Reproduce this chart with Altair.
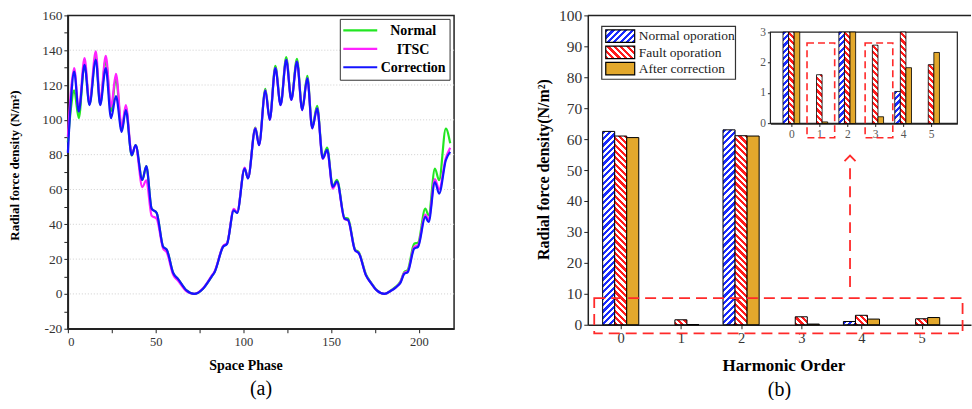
import altair as alt

FONT = "Liberation Serif"

# ---------------- (a) radial force density along the air gap ----------------
PHASE = [0, 1.8, 3.6, 6.2, 9.5, 12.3, 15.9, 18.4, 21.6, 24.6, 27.4, 30.7, 33.0, 36.4,
         38.6, 42.4, 44.7, 47.7, 50.6, 54.3, 56.3, 60.0, 62.8, 67.6, 71.9, 77.0, 81.8,
         83.7, 88.4, 90.7, 94.5, 96.4, 100.7, 102.6, 106.8, 108.9, 112.5, 115.0, 118.2,
         121.2, 124.4, 127.3, 130.5, 133.5, 136.4, 139.2, 142.0, 145.2, 147.7, 150.9,
         153.3, 157.6, 159.6, 163.6, 165.7, 169.9, 172.5, 176.0, 180.3, 184.0, 186.9,
         189.5, 191.6, 193.6, 197.3, 199.5, 203.6, 205.5, 209.1, 211.5, 215.3, 217.8]

CORRECTION = [81, 112, 127.7, 104.7, 131.6, 108.5, 134.5, 108.5, 129.7, 100.9, 113.7, 93.1,
              105.6, 79.7, 85.5, 65.5, 73.4, 49, 46.5, 27, 25.5, 12, 8.5, 2, 0, 3, 9.8,
              12.8, 27, 28.8, 48, 46.5, 72, 66.3, 95, 85.5, 116.8, 100, 129.7, 108.5,
              134.5, 111.4, 133.5, 105.6, 123.9, 95.1, 106.6, 77.8, 82.8, 61.5, 64.6, 43.2,
              42.5, 25, 23.5, 10.5, 6.5, 2, 0, 1.8, 3.8, 6.5, 11.5, 12.5, 26, 27, 44.2,
              41.3, 64.3, 57.6, 76.8, 81.6]

ITSC = [90, 117, 129.7, 106, 135.4, 110, 139.3, 110.5, 136.8, 107.5, 126.4, 95.5,
        108.5, 80.5, 85, 61.4, 65.3, 45, 43.2, 26, 24, 11, 7.5, 1.5, 0, 3.2, 10.2,
        13.2, 27.5, 29.2, 48.8, 47, 72.5, 66.5, 95.3, 85.5, 117, 100, 129.7, 108.5,
        134.5, 111.4, 133.5, 105.6, 123.9, 95.1, 106.6, 77.5, 82.5, 60.5, 64, 43,
        42.3, 25, 23.5, 10.5, 6.5, 2, 0, 1.8, 3.8, 6.8, 12, 13, 27, 28, 45.5,
        43, 66, 60, 78, 84]

NORMAL = [87, 107, 117, 100.9, 132.5, 109, 136, 109, 134.5, 105, 124, 94,
          107, 79.5, 85.5, 65.5, 73.4, 49, 46.5, 27, 25.5, 12, 8.5, 2, 0, 3, 9.8,
          12.8, 27.3, 29, 48.3, 46.7, 72.2, 66.5, 95.5, 86, 117.8, 100.5, 131, 109,
          136, 112, 135, 106.2, 125.3, 95.8, 108, 78.5, 84, 62, 65.5, 43.8,
          43.3, 25.5, 24, 11, 6.8, 2.2, 0, 2, 4.2, 7.3, 12.5, 13.8, 28.8, 29.5, 49,
          45.1, 72, 65.3, 95, 86.5]

SERIES_A = ["Normal", "ITSC", "Correction"]
COLORS_A = ["#22e622", "#ff22ff", "#1414ff"]
Y_TICKS_A = list(range(-20, 161, 10))
Y_GRID_A = list(range(0, 141, 20))
X_TICKS_A = list(range(0, 201, 25))

# ---------------- (b) harmonic spectrum ----------------
ORDERS = [0, 1, 2, 3, 4, 5]
NORMAL_OP = [62.5, 0, 63.0, 0, 1.05, 0]
FAULT_OP = [61.0, 1.6, 61.1, 2.57, 3.05, 1.93]
AFTER_CORR = [60.5, 0.05, 61.0, 0.22, 1.83, 2.33]
SERIES_B = ["Normal oporation", "Fault oporation", "After correction"]
Y_TICKS_B = list(range(0, 101, 10))

BLUE, RED, GOLD = "#1a2cff", "#ff1c1c", "#e3a82c"

# panel geometry (pixels)
WA, HA = 387, 314
WB, HB = 384, 310
XB_DOM = [-0.547, 5.82]
YB_DOM = [0, 100]
INSET_X_DOM = [-0.75, 5.94]
INSET_Y_DOM = [0, 3]
INSET_X_RANGE = [183, 370.3]
INSET_Y_RANGE = [108.3, 16.7]
BAR_W = 0.2


def hatch(color, w, h, backslash=False, period=6.4, fill_share=0.5):
    """Diagonal stripes as a hard-stop linear gradient over a w x h pixel box."""
    span = w + h
    s = (w * w + h * h) / span
    stops = []
    k = 0
    while k * period < span:
        a = min(k * period / span, 1)
        b = min((k + fill_share) * period / span, 1)
        c = min((k + 1) * period / span, 1)
        stops += [{"offset": a, "color": color}, {"offset": b, "color": color},
                  {"offset": b, "color": "white"}, {"offset": c, "color": "white"}]
        k += 1
    if backslash:
        x1, y1, x2, y2 = 0, 1, w / s, 1 - h / s
    else:
        x1, y1, x2, y2 = 0, 0, w / s, h / s
    return {"gradient": "linear", "x1": x1, "y1": y1, "x2": x2, "y2": y2, "stops": stops}


def style_for(series, w, h):
    if series == SERIES_B[0]:
        return hatch(BLUE, w, h)
    if series == SERIES_B[1]:
        return hatch(RED, w, h, backslash=True)
    return GOLD


# ======================= panel (a) =======================
rows_a = []
for name, ys in zip(SERIES_A, [NORMAL, ITSC, CORRECTION]):
    for x, y in zip(PHASE, ys):
        rows_a.append({"phase": x, "value": y, "series": name})

x_a = alt.X("phase:Q", title="Space Phase",
            scale=alt.Scale(domain=[0, 220], nice=False, zero=False),
            axis=alt.Axis(values=X_TICKS_A, format="d", labelFont=FONT,
                          labelExpr="datum.value % 50 === 0 ? datum.label : ''",
                          tickSize=4, labelFontSize=12.5, labelPadding=3,
                          labelOverlap=False,
                          titleFontSize=14, titleX=178, titleY=37,
                          titleBaseline="middle", titleAlign="center"))
y_a = alt.Y("value:Q", title="Radial force density (N/m²)",
            scale=alt.Scale(domain=[-20, 160], nice=False, zero=False),
            axis=alt.Axis(values=Y_TICKS_A, labelFont=FONT,
                          labelExpr="datum.value % 20 === 0 ? '' + datum.value : ''",
                          tickSize=4, labelFontSize=13.5, labelPadding=2,
                          labelOverlap=False,
                          titleFontSize=13, titleX=-53, titleY=150,
                          titleBaseline="middle", titleAlign="center"))

grid_a = alt.Chart(alt.Data(values=[{"value": v} for v in Y_GRID_A])).mark_rule(
    color="#cfcfcf", strokeDash=[1, 2], strokeWidth=1).encode(y=y_a)

line_base = alt.Chart(alt.Data(values=rows_a))
line_layers = [
    line_base.transform_filter(alt.datum.series == name)
    .mark_line(color=col, strokeWidth=2.2, interpolate="monotone")
    .encode(x=x_a, y=y_a)
    for name, col in zip(SERIES_A, COLORS_A)
]

one = alt.Data(values=[{"k": 0}])
leg_a = [alt.Chart(one).mark_rect(fill="white", stroke="#333", strokeWidth=1).encode(
    x=alt.value(273), x2=alt.value(383), y=alt.value(4), y2=alt.value(65))]
for i, (name, col) in enumerate(zip(SERIES_A, COLORS_A)):
    yy = 15 + i * 18.5
    leg_a.append(alt.Chart(one).mark_rule(color=col, strokeWidth=2.2).encode(
        x=alt.value(276), x2=alt.value(310), y=alt.value(yy)))
    leg_a.append(alt.Chart(one).mark_text(
        text=name, font=FONT, fontSize=14, fontWeight="bold", color="black",
        align="center", baseline="middle").encode(x=alt.value(346), y=alt.value(yy + 1)))

panel_a = alt.layer(grid_a, *line_layers, *leg_a).properties(
    width=WA, height=HA,
    view=alt.ViewBackground(stroke="#222", strokeWidth=1.5),
    title=alt.TitleParams("(a)", orient="bottom", fontSize=20, font=FONT,
                          fontWeight="normal", anchor="middle", offset=6),
)

# ======================= panel (b) =======================
px_x_main = WB / (XB_DOM[1] - XB_DOM[0])
px_y_main = HB / (YB_DOM[1] - YB_DOM[0])
px_x_inset = (INSET_X_RANGE[1] - INSET_X_RANGE[0]) / (INSET_X_DOM[1] - INSET_X_DOM[0])
px_y_inset = (INSET_Y_RANGE[0] - INSET_Y_RANGE[1]) / (INSET_Y_DOM[1] - INSET_Y_DOM[0])

main_rows, inset_rows = [], []
for s_i, (name, vals) in enumerate(zip(SERIES_B, [NORMAL_OP, FAULT_OP, AFTER_CORR])):
    shift = (s_i - 1) * BAR_W
    for h, v in zip(ORDERS, vals):
        if v <= 0:
            continue
        x0, x1 = h + shift - BAR_W / 2, h + shift + BAR_W / 2
        main_rows.append({"x0": x0, "x1": x1, "value": v, "series": name,
                          "fill": style_for(name, BAR_W * px_x_main, v * px_y_main)})
        vi = min(v, INSET_Y_DOM[1])
        inset_rows.append({"x0": x0, "x1": x1, "value": vi, "series": name,
                           "fill": style_for(name, BAR_W * px_x_inset, vi * px_y_inset)})

scale_xb = alt.Scale(domain=XB_DOM, nice=False, zero=False)
scale_yb = alt.Scale(domain=YB_DOM, nice=False, zero=False)
axis_xb = alt.Axis(values=ORDERS, format="d", tickSize=4, labelFontSize=14.5,
                   labelFont=FONT, labelOverlap=False,
                   labelPadding=3, titleFontSize=17, titleX=196, titleY=41,
                   titleBaseline="middle", titleAlign="center")
axis_yb = alt.Axis(values=Y_TICKS_B, format="d", tickSize=4, tickCount=11,
                   labelFont=FONT, labelOverlap=False,
                   labelFontSize=15.5, labelPadding=2, titleFontSize=16,
                   titleX=-44, titleY=154, titleBaseline="middle",
                   titleAlign="center")
TITLE_XB = "Harmonic Order"
TITLE_YB = "Radial force density(N/m²)"


def xb(field):
    return alt.X(field, title=TITLE_XB, scale=scale_xb, axis=axis_xb)


def yb(field):
    return alt.Y(field, title=TITLE_YB, scale=scale_yb, axis=axis_yb)


bars_b = alt.Chart(alt.Data(values=main_rows)).mark_rect(
    stroke="black", strokeWidth=1).encode(
    x=xb("x0:Q"), x2="x1:Q", y=yb("value:Q"), y2=alt.datum(0),
    fill=alt.Fill("fill:N", scale=None))

# top frame line of the spectrum panel
FRAME_B = [{"x0": XB_DOM[0], "x1": XB_DOM[1], "value": YB_DOM[1]}]
top_b = alt.Chart(alt.Data(values=FRAME_B)).mark_rule(color="#222", strokeWidth=1.5).encode(
    x=xb("x0:Q"), x2="x1:Q", y=yb("value:Q"))

# zoom-in annotation: dashed box around the low orders and an arrow to the inset
ZOOM_BOX = {"x0": -0.44, "x1": 5.68, "value": 8.6, "low": -2.8}
ARROW = {"x0": 3.81, "value": 12.2, "to": 52.8, "tip": 54.7}
dash_box = alt.Chart(alt.Data(values=[ZOOM_BOX])).mark_rect(
    fill="transparent", stroke="#ff2a2a", strokeWidth=1.8, strokeDash=[11, 6]).encode(
    x=xb("x0:Q"), x2="x1:Q", y=yb("value:Q"), y2="low:Q")
shaft = alt.Chart(alt.Data(values=[ARROW])).mark_rule(
    color="#ff2a2a", strokeWidth=1.8, strokeDash=[11, 7]).encode(
    x=xb("x0:Q"), y=yb("value:Q"), y2="to:Q")
head = alt.Chart(alt.Data(values=[ARROW])).transform_calculate(
    value="datum.tip").mark_point(
    shape="M-1,1L0,0L1,1", size=121, filled=False, color="#ff2a2a",
    strokeWidth=1.8, opacity=1).encode(x=xb("x0:Q"), y=yb("value:Q"))

leg_b = [alt.Chart(one).mark_rect(fill="white", stroke="#333", strokeWidth=1.2).encode(
    x=alt.value(14), x2=alt.value(148), y=alt.value(11), y2=alt.value(64))]
for i, name in enumerate(SERIES_B):
    y0 = 14.5 + i * 16.3
    leg_b.append(alt.Chart(one).mark_rect(
        fill=style_for(name, 29, 12.5), stroke="black", strokeWidth=1.2).encode(
        x=alt.value(18), x2=alt.value(47), y=alt.value(y0), y2=alt.value(y0 + 12.5)))
    leg_b.append(alt.Chart(one).mark_text(
        text=name, font=FONT, fontSize=13.5, color="#222", align="left",
        baseline="middle").encode(x=alt.value(51), y=alt.value(y0 + 6.5)))

main_b = alt.layer(bars_b, top_b, dash_box, shaft, head, *leg_b)

# inset: magnified view of 0..3
scale_xi = alt.Scale(domain=INSET_X_DOM, range=INSET_X_RANGE, nice=False, zero=False)
scale_yi = alt.Scale(domain=INSET_Y_DOM, range=INSET_Y_RANGE, nice=False, zero=False)
axis_xi = alt.Axis(orient="bottom", offset=INSET_Y_RANGE[0] - HB, values=ORDERS,
                   format="d", tickSize=3, labelFontSize=11.5, labelPadding=2,
                   labelFont=FONT, labelOverlap=False,
                   domainColor="#222", labelColor="#555", title=None)
axis_yi = alt.Axis(orient="left", offset=-INSET_X_RANGE[0], values=[0, 1, 2, 3],
                   format="d", tickSize=3, labelFontSize=11.5, labelPadding=2,
                   labelFont=FONT, labelOverlap=False,
                   domainColor="#222", labelColor="#555", title=None)
x_i = alt.X("x0:Q", scale=scale_xi, axis=axis_xi)
y_i = alt.Y("value:Q", scale=scale_yi, axis=axis_yi)

FRAME_I = [{"x0": INSET_X_DOM[0], "x1": INSET_X_DOM[1],
            "value": INSET_Y_DOM[0], "low": INSET_Y_DOM[1]}]
inset_bg = alt.Chart(alt.Data(values=FRAME_I)).mark_rect(
    fill="white", stroke="#222", strokeWidth=1.2).encode(
    x=x_i, x2="x1:Q", y=y_i, y2="low:Q")
inset_bars = alt.Chart(alt.Data(values=inset_rows)).mark_rect(
    stroke="black", strokeWidth=0.8).encode(
    x=x_i, x2="x1:Q", y=y_i, y2=alt.datum(0),
    fill=alt.Fill("fill:N", scale=None))
INSET_BOXES = [{"x0": 0.56, "x1": 1.55, "value": 2.64, "low": -0.47},
               {"x0": 2.64, "x1": 3.63, "value": 2.64, "low": -0.47}]
inset_boxes = alt.Chart(alt.Data(values=INSET_BOXES)).mark_rect(
    fill="transparent", stroke="#ff2a2a", strokeWidth=1.6, strokeDash=[7, 4]).encode(
    x=x_i, x2="x1:Q", y=y_i, y2="low:Q")

inset_b = alt.layer(inset_bg, inset_bars, inset_boxes)

panel_b = alt.layer(main_b, inset_b).resolve_scale(
    x="independent", y="independent").properties(
    width=WB, height=HB,
    title=alt.TitleParams("(b)", orient="bottom", fontSize=20, font=FONT,
                          fontWeight="normal", anchor="middle", offset=6),
)

chart = alt.hconcat(panel_a, panel_b, spacing=80).properties(
    padding={"left": 8, "top": 7, "right": 0, "bottom": 0},
    background="white",
).configure_view(strokeWidth=0).configure_axis(
    labelFont=FONT, titleFont=FONT, labelColor="#333", titleColor="black",
    domainColor="#222", tickColor="#222", domainWidth=1.5, tickWidth=1,
    titleFontWeight="bold", grid=False,
)

chart.save("out.html", embed_options={"renderer": "svg", "actions": False})
